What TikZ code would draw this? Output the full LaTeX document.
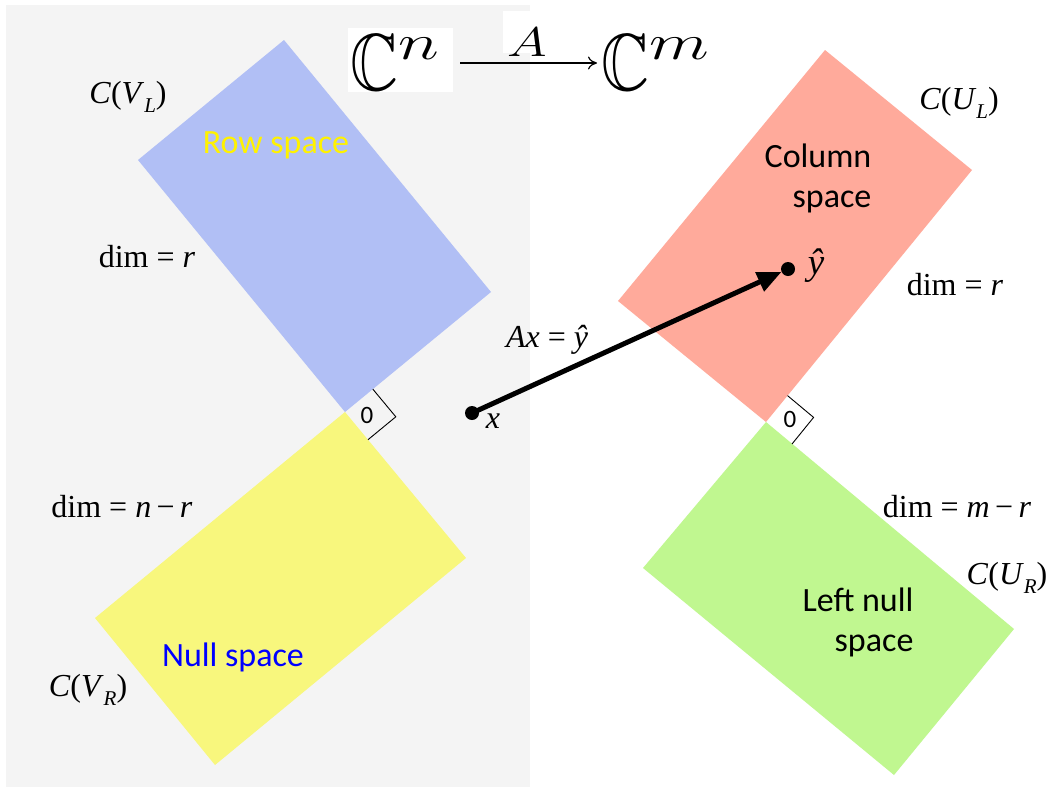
\documentclass[tikz,border=0pt]{standalone}
\usepackage{amssymb}
\usepackage{graphicx}
\usepackage{fontspec}
\newfontfamily\calibri{Carlito}
\newfontfamily\tnr{Liberation Serif}
\usetikzlibrary{arrows.meta}
\definecolor{bgray}{RGB}{244,244,244}
\definecolor{rowblue}{RGB}{177,191,245}
\definecolor{nullyellow}{RGB}{248,247,125}
\definecolor{colred}{RGB}{255,170,155}
\definecolor{leftgreen}{RGB}{192,247,144}
\newcommand\lsub[1]{\raisebox{-0.28em}{\fontsize{21}{21}\selectfont\itshape #1}}
\newcommand\flatsup[1]{\raisebox{0.38em}{\scalebox{1.05}[0.62]{$\textstyle #1$}}}
\begin{document}
\begin{tikzpicture}[x=1pt,y=-1pt,
  lbl/.style={font=\tnr\fontsize{32}{36}\selectfont, inner sep=0pt},
  spacelbl/.style={font=\calibri\fontsize{34}{40}\selectfont, inner sep=0pt, align=right},
  zerolbl/.style={font=\calibri\fontsize{25}{30}\selectfont, inner sep=0pt},
  dotnode/.style={circle, fill=black, minimum size=14pt, inner sep=0pt},
  anglemark/.style={draw=black, line width=0.9pt},
  bigmath/.style={inner sep=0pt, xscale=3.2, yscale=3.9}
]
\useasboundingbox (0,0) rectangle (1051,790);
\fill[white] (0,0) rectangle (1051,790);
\fill[bgray] (6,5) rectangle (530,787);

% subspaces
\coordinate (b1) at (284,40);  \coordinate (b2) at (491,292);
\coordinate (b3) at (345,412); \coordinate (b4) at (138,160);
\fill[rowblue] (b1)--(b2)--(b3)--(b4)--cycle;
\coordinate (y1) at (345,412); \coordinate (y2) at (466,558);
\coordinate (y3) at (215,765); \coordinate (y4) at (95,618);
\fill[nullyellow] (y1)--(y2)--(y3)--(y4)--cycle;
\coordinate (r1) at (825,50);  \coordinate (r2) at (972,170);
\coordinate (r3) at (766,422); \coordinate (r4) at (618,301);
\fill[colred] (r1)--(r2)--(r3)--(r4)--cycle;
\coordinate (g1) at (766,422); \coordinate (g2) at (1014,629);
\coordinate (g3) at (894,775); \coordinate (g4) at (643,568);
\fill[leftgreen] (g1)--(g2)--(g3)--(g4)--cycle;

% right-angle marks
\coordinate (lq) at (372.8,389.1); \coordinate (lr) at (395.8,416.8); \coordinate (ls) at (368,439.7);
\draw[anglemark] (lq)--(lr)--(ls);
\node[zerolbl] (lzero) at (367,415) {0};
\coordinate (rq) at (787.5,395.6); \coordinate (rr) at (813.6,417.4); \coordinate (rs) at (792,444);
\draw[anglemark] (rq)--(rr)--(rs);
\node[zerolbl] (rzero) at (790,419) {0};

% top mapping
\fill[white] (348,28) rectangle (453,92);
\fill[white] (503,11) rectangle (530,53);
\node[bigmath, anchor=base west] (cn) at (350,90) {\fontsize{20.74}{25}\selectfont$\mathbb{C}$\flatsup{n}};
\node[bigmath, anchor=base west] (cm) at (601,90) {\fontsize{20.74}{25}\selectfont$\mathbb{C}$\flatsup{m}};
\node[inner sep=0pt, xscale=2.6, yscale=2.0] (amap) at (527,42) {\fontsize{20.74}{25}\selectfont$A$};
\coordinate (ta) at (460,63); \coordinate (tb) at (597,63);
\draw[line width=1.2pt, -{To[length=9pt,width=13pt]}] (ta) -- (tb);

% space labels
\node[spacelbl, text=yellow] (row) at (276,145) {Row space};
\node[spacelbl, text=blue] (null) at (233,657) {Null space};
\node[spacelbl] (col) at (818,178) {Column\\space};
\node[spacelbl] (lnull) at (858,622) {Left null\\space};

% math labels
\node[lbl] (cvl) at (128,97) {\textit{C}(\textit{V}\lsub{L})};
\node[lbl] (dimr1) at (147,257) {dim = \textit{r}};
\node[lbl] (dimnr) at (122,507) {dim = \textit{n}\,−\,\textit{r}};
\node[lbl] (cvr) at (88,690) {\textit{C}(\textit{V}\lsub{R})};
\node[lbl] (cul) at (959,103) {\textit{C}(\textit{U}\lsub{L})};
\node[lbl] (dimr2) at (955,285) {dim = \textit{r}};
\node[lbl] (dimmr) at (957,507) {dim = \textit{m}\,−\,\textit{r}};
\node[lbl] (cur) at (1007,578) {\textit{C}(\textit{U}\lsub{R})};
\node[lbl] (axy) at (547,340) {\textit{Ax} = \textit{ŷ}};

% vectors
\node[dotnode] (xd) at (472,413) {};
\node[dotnode] (yd) at (788,269) {};
\node[lbl] (xl) at (493,421) {\textit{x}};
\node[lbl, font=\tnr\fontsize{37}{40}\selectfont] (yl) at (816,266) {\textit{ŷ}};
\draw[line width=5pt, -{Triangle[length=24pt,width=20pt]}] (xd.center) -- (yd);
\end{tikzpicture}
\end{document}
